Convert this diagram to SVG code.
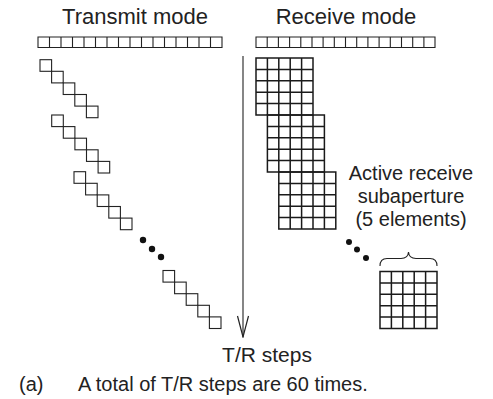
<svg xmlns="http://www.w3.org/2000/svg" xmlns:xlink="http://www.w3.org/1999/xlink" width="493" height="399" viewBox="0 0 493 399">
<style>
  .t { font-family: "Liberation Sans", Arial, sans-serif; fill: #222; }
  .ln { fill: none; stroke: #222; stroke-width: 1.1; }
  .gr { fill: none; stroke: #1a1a1a; stroke-width: 1.5; }
  .dot { fill: #111; }
</style>
<defs>
  <rect id="sq" width="11.6" height="11.6" class="ln"/>
  <g id="stair">
    <use xlink:href="#sq" x="0" y="0"/>
    <use xlink:href="#sq" x="11.6" y="11.6"/>
    <use xlink:href="#sq" x="23.2" y="23.2"/>
    <use xlink:href="#sq" x="34.8" y="34.8"/>
    <use xlink:href="#sq" x="46.4" y="46.4"/>
  </g>
  <path id="g5" class="gr" d="M0,0 H57 V57 H0 Z M11.4,0 V57 M22.8,0 V57 M34.2,0 V57 M45.6,0 V57 M0,11.4 H57 M0,22.8 H57 M0,34.2 H57 M0,45.6 H57"/>
  <marker id="vhead" viewBox="-1 -7 23 14" refX="21" refY="0" markerWidth="23" markerHeight="14" markerUnits="userSpaceOnUse" orient="auto">
    <path d="M0,-5.5 L21,0 L0,5.5" fill="none" stroke="#222" stroke-width="1.2"/>
  </marker>
</defs>
<rect width="493" height="399" fill="#fff"/>

<g id="transmit-title"><text class="t" x="135" y="24" font-size="22" text-anchor="middle">Transmit mode</text></g>
<g id="receive-title"><text class="t" x="346" y="24" font-size="22" text-anchor="middle">Receive mode</text></g>

<g id="transmit-array">
  <path class="ln" d="M38,37 H222 V47.5 H38 Z M49.5,37 V47.5 M61,37 V47.5 M72.5,37 V47.5 M84,37 V47.5 M95.5,37 V47.5 M107,37 V47.5 M118.5,37 V47.5 M130,37 V47.5 M141.5,37 V47.5 M153,37 V47.5 M164.5,37 V47.5 M176,37 V47.5 M187.5,37 V47.5 M199,37 V47.5 M210.5,37 V47.5"/>
</g>
<g id="receive-array">
  <path class="ln" d="M256,37 H435 V47.5 H256 Z M267.2,37 V47.5 M278.4,37 V47.5 M289.6,37 V47.5 M300.8,37 V47.5 M312,37 V47.5 M323.1,37 V47.5 M334.3,37 V47.5 M345.5,37 V47.5 M356.7,37 V47.5 M367.9,37 V47.5 M379.1,37 V47.5 M390.3,37 V47.5 M401.5,37 V47.5 M412.7,37 V47.5 M423.9,37 V47.5"/>
</g>

<g id="transmit-steps">
  <use xlink:href="#stair" x="40" y="59.7"/>
  <use xlink:href="#stair" x="51.7" y="115"/>
  <use xlink:href="#stair" x="74" y="171.7"/>
  <use xlink:href="#stair" x="163" y="270.5"/>
  <circle class="dot" cx="143" cy="240" r="3.2"/>
  <circle class="dot" cx="152" cy="249" r="3.2"/>
  <circle class="dot" cx="161" cy="257" r="3.2"/>
</g>

<g id="receive-steps">
  <use xlink:href="#g5" x="256" y="58"/>
  <use xlink:href="#g5" x="267.4" y="115"/>
  <use xlink:href="#g5" x="278.8" y="172"/>
  <circle class="dot" cx="349" cy="242" r="3"/>
  <circle class="dot" cx="357" cy="249.5" r="3"/>
  <circle class="dot" cx="366" cy="258" r="3"/>
</g>

<g id="active-subaperture">
  <text class="t" font-size="20" text-anchor="middle"><tspan x="411" y="180">Active receive</tspan><tspan x="411" y="203">subaperture</tspan><tspan x="411" y="226">(5 elements)</tspan></text>
  <path class="ln" stroke-width="1.3" d="M380,266 Q380,258.5 387,258.5 L401,258.5 Q408,258.5 408.5,252 Q409,258.5 416,258.5 L430,258.5 Q437,258.5 437,266"/>
  <use xlink:href="#g5" x="380" y="271.5"/>
</g>

<g id="connectors">
  <line class="ln" x1="243" y1="56" x2="243" y2="337" marker-end="url(#vhead)"/>
</g>

<g id="axis-label"><text class="t" x="267" y="362" font-size="21" text-anchor="middle">T/R steps</text></g>
<g id="caption">
  <text class="t" x="19" y="391" font-size="20">(a)</text>
  <text class="t" x="78" y="391" font-size="20">A total of T/R steps are 60 times.</text>
</g>
</svg>
